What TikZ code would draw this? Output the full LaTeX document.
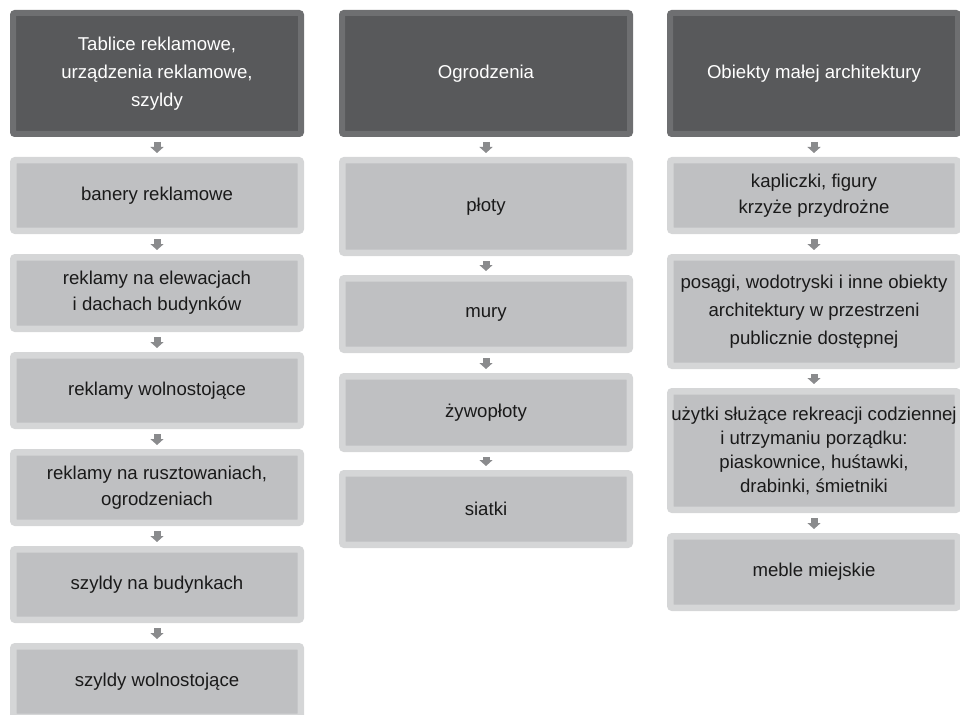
\documentclass[tikz,border=0pt]{standalone}
\usepackage{fontspec}
\setmainfont{Liberation Sans}
\usetikzlibrary{arrows.meta}
\definecolor{hdfill}{HTML}{58595B}
\definecolor{hdline}{HTML}{6E6F71}
\definecolor{bxfill}{HTML}{BFC0C2}
\definecolor{bxline}{HTML}{D5D6D7}
\definecolor{arrgray}{HTML}{8A8B8D}
\definecolor{txtdark}{HTML}{1A1A1A}
\tikzset{
  hdbox/.style={fill=hdfill, draw=hdline, line width=6pt, rounded corners=2pt,
    minimum width=288pt, inner sep=0pt, align=center, text=white,
    font=\fontsize{18.6}{28}\selectfont},
  itbox/.style={fill=bxfill, draw=bxline, line width=6.5pt, rounded corners=2pt,
    minimum width=287.5pt, inner sep=0pt, align=center, text=txtdark,
    font=\fontsize{18.6}{26}\selectfont},
  flow/.style={draw=arrgray, line width=7pt, -{Triangle[width=13pt,length=6pt]},
    shorten <=5pt, shorten >=4pt}
}
\begin{document}
\begin{tikzpicture}[x=1pt,y=-1pt]
\useasboundingbox (0,0) rectangle (960,714);
\clip (0,0) rectangle (960,714);
% column 1
\node[hdbox, minimum height=121pt] (h1) at (157,73.5) {Tablice reklamowe,\\urządzenia reklamowe,\\szyldy};
\node[itbox, minimum height=70.5pt] (a1) at (157,195.5) {banery reklamowe};
\node[itbox, minimum height=71.5pt] (a2) at (157,293) {reklamy na elewacjach\\i dachach budynków};
\node[itbox, minimum height=70.5pt] (a3) at (157,390.5) {reklamy wolnostojące};
\node[itbox, minimum height=70.5pt] (a4) at (157,487.5) {reklamy na rusztowaniach,\\ogrodzeniach};
\node[itbox, minimum height=70.5pt] (a5) at (157,584.5) {szyldy na budynkach};
\node[itbox, minimum height=70.5pt] (a6) at (157,681.5) {szyldy wolnostojące};
% column 2
\node[hdbox, minimum height=121pt] (h2) at (486,73.5) {Ogrodzenia};
\node[itbox, minimum height=92.5pt] (b1) at (486,206.5) {płoty};
\node[itbox, minimum height=71.5pt] (b2) at (486,314) {mury};
\node[itbox, minimum height=72.5pt] (b3) at (486,412.5) {żywopłoty};
\node[itbox, minimum height=71.5pt] (b4) at (486,509) {siatki};
% column 3
\node[hdbox, minimum height=121pt] (h3) at (814,73.5) {Obiekty małej architektury};
\node[itbox, minimum height=70.5pt] (c1) at (814,195.5) {kapliczki, figury\\krzyże przydrożne};
\node[itbox, minimum height=108.5pt, font=\fontsize{18.6}{28}\selectfont] (c2) at (814,311.5) {posągi, wodotryski i inne obiekty\\architektury w przestrzeni\\publicznie dostępnej};
\node[itbox, minimum height=118.5pt, font=\fontsize{18.6}{24}\selectfont] (c3) at (814,450.5) {użytki służące rekreacji codziennej\\i utrzymaniu porządku:\\piaskownice, huśtawki,\\drabinki, śmietniki};
\node[itbox, minimum height=71.5pt] (c4) at (814,572) {meble miejskie};
% connectors
\draw[flow] (h1) -- (a1);
\draw[flow] (a1) -- (a2);
\draw[flow] (a2) -- (a3);
\draw[flow] (a3) -- (a4);
\draw[flow] (a4) -- (a5);
\draw[flow] (a5) -- (a6);
\draw[flow] (h2) -- (b1);
\draw[flow] (b1) -- (b2);
\draw[flow] (b2) -- (b3);
\draw[flow] (b3) -- (b4);
\draw[flow] (h3) -- (c1);
\draw[flow] (c1) -- (c2);
\draw[flow] (c2) -- (c3);
\draw[flow] (c3) -- (c4);
\end{tikzpicture}
\end{document}
